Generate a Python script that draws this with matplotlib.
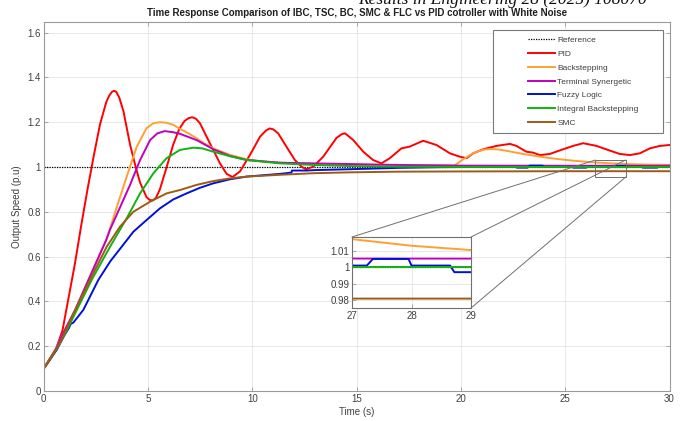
import matplotlib
matplotlib.use("Agg")
import matplotlib.pyplot as plt
from matplotlib.patches import Rectangle, ConnectionPatch
from matplotlib.ticker import FormatStrFormatter
import numpy as np

plt.rcParams['font.family'] = ['Liberation Sans', 'DejaVu Sans']

# speed responses (p.u.) read at irregular time instants (s)
t_pid = [0, 0, 0.3, 0.6, 0.9, 1.2, 1.5, 1.8, 2.1, 2.4, 2.7, 3.0, 3.15, 3.27, 3.37, 3.48, 3.62,
         3.82, 4.14, 4.41, 4.62, 4.93, 5.08, 5.22, 5.38, 5.57, 5.89, 6.21, 6.5, 6.75, 6.95, 7.12,
         7.3, 7.49, 7.97, 8.45, 8.77, 9.05, 9.41, 9.89, 10.37, 10.65, 10.83, 11.0, 11.24, 11.64,
         12.04, 12.36, 12.57, 12.92, 13.4, 14.04, 14.3, 14.45, 14.84, 15.32, 15.79, 16.19, 16.59,
         17.15, 17.55, 18.19, 18.83, 19.47, 19.94, 20.27, 20.59, 21.07, 21.71, 22.35, 22.66,
         23.14, 23.46, 23.78, 24.26, 24.9, 25.38, 25.86, 26.5, 27.14, 27.62, 28.1, 28.58, 29.06,
         29.54, 30]
v_pid = [0, 0.1, 0.14, 0.19, 0.27, 0.42, 0.57, 0.74, 0.9, 1.05, 1.19, 1.29, 1.32, 1.335, 1.34,
         1.335, 1.31, 1.25, 1.1, 1.0, 0.93, 0.865, 0.853, 0.85, 0.862, 0.9, 0.998, 1.1, 1.17,
         1.205, 1.218, 1.222, 1.215, 1.195, 1.105, 1.016, 0.969, 0.955, 0.98, 1.054, 1.135,
         1.162, 1.172, 1.168, 1.15, 1.09, 1.031, 1.001, 0.99, 1.001, 1.046, 1.13, 1.147, 1.15,
         1.12, 1.068, 1.031, 1.016, 1.039, 1.083, 1.091, 1.117, 1.098, 1.061, 1.046, 1.039,
         1.061, 1.079, 1.094, 1.103, 1.094, 1.068, 1.064, 1.053, 1.058, 1.079, 1.094, 1.106,
         1.094, 1.073, 1.058, 1.053, 1.061, 1.083, 1.094, 1.098]

t_bs = [0, 0, 0.6, 1.0, 1.5, 2.0, 2.5, 3.0, 3.18, 3.35, 3.5, 3.98, 4.46, 4.93, 5.25, 5.57, 5.9,
        6.21, 6.53, 6.85, 7.33, 7.7, 8.13, 8.93, 9.73, 10.52, 11.32, 12.92, 14.7, 17.0, 19.7,
        20.11, 20.59, 21.07, 21.4, 21.8, 22.19, 22.98, 23.78, 24.58, 25.38, 26.18, 27.0, 28.0,
        29.0, 30.0]
v_bs = [0, 0.1, 0.19, 0.27, 0.36, 0.465, 0.57, 0.675, 0.725, 0.775, 0.82, 0.957, 1.09, 1.173,
        1.195, 1.2, 1.197, 1.188, 1.17, 1.155, 1.128, 1.105, 1.083, 1.054, 1.034, 1.024, 1.019,
        1.013, 1.009, 1.007, 1.007, 1.034, 1.062, 1.077, 1.08, 1.078, 1.072, 1.058, 1.046,
        1.036, 1.028, 1.022, 1.017, 1.013, 1.0104, 1.009]

t_tsc = [0, 0, 0.6, 1.0, 1.5, 2.0, 2.5, 3.0, 3.18, 3.66, 4.14, 4.62, 5.1, 5.45, 5.8, 6.21,
         6.53, 7.33, 8.13, 8.93, 9.73, 11.32, 12.92, 14.7, 17.0, 20.0, 25.0, 30.0]
v_tsc = [0, 0.1, 0.19, 0.27, 0.36, 0.465, 0.57, 0.675, 0.72, 0.82, 0.92, 1.031, 1.12, 1.15,
         1.16, 1.155, 1.148, 1.12, 1.079, 1.049, 1.031, 1.019, 1.016, 1.013, 1.009, 1.006,
         1.0053, 1.0052]

t_flc = [0, 0, 0.62, 1.0, 1.2, 1.3, 1.42, 1.9, 2.62, 3.2, 3.74, 4.3, 4.93, 5.57, 6.21, 6.85,
         7.49, 8.13, 8.93, 9.73, 10.52, 11.32, 11.88, 11.9, 12.6, 13.0, 14.7, 15.5, 17.0, 19.0,
         20.5, 22.6, 22.7, 23.2, 23.3, 23.9, 24.0, 25.3, 25.4, 26.0, 26.1, 27.25, 27.35, 27.95,
         28.0, 28.65, 28.72, 29.4, 29.5, 30.0]
v_flc = [0, 0.1, 0.183, 0.25, 0.28, 0.3, 0.305, 0.362, 0.496, 0.58, 0.644, 0.711, 0.763, 0.815,
         0.855, 0.882, 0.907, 0.927, 0.945, 0.957, 0.963, 0.969, 0.975, 0.984, 0.984, 0.986,
         0.99, 0.992, 0.996, 0.999, 1.0, 1.0, 0.997, 0.997, 1.006, 1.006, 1.0, 1.0, 0.997,
         0.997, 1.001, 1.001, 1.005, 1.005, 1.001, 1.001, 0.997, 0.997, 1.0, 1.0]

t_ibs = [0, 0, 0.6, 1.0, 1.42, 2.3, 3.18, 3.98, 4.62, 5.26, 5.89, 6.53, 7.17, 7.6, 8.13, 8.93,
         9.73, 11.32, 12.92, 14.7, 17.0, 20.0, 30.0]
v_ibs = [0, 0.1, 0.185, 0.25, 0.33, 0.496, 0.644, 0.771, 0.882, 0.972, 1.039, 1.076, 1.086,
         1.083, 1.068, 1.048, 1.031, 1.016, 1.009, 1.004, 1.001, 1.0, 1.0]

t_smc = [0, 0, 0.78, 1.42, 2.22, 3.02, 3.66, 4.3, 5.1, 5.89, 6.53, 7.33, 8.13, 8.93, 9.73,
         11.32, 12.92, 14.7, 17.0, 20.0, 25.0, 30.0]
v_smc = [0, 0.1, 0.213, 0.345, 0.496, 0.644, 0.734, 0.8, 0.845, 0.882, 0.897, 0.92, 0.937,
         0.949, 0.957, 0.965, 0.972, 0.976, 0.979, 0.98, 0.981, 0.981]

ref_level = 1.0

series = [
    ("PID", t_pid, v_pid, "#ff0000"),
    ("Backstepping", t_bs, v_bs, "#ffa033"),
    ("Terminal Synergetic", t_tsc, v_tsc, "#c000c0"),
    ("Fuzzy Logic", t_flc, v_flc, "#0010d8"),
    ("Integral Backstepping", t_ibs, v_ibs, "#10b410"),
    ("SMC", t_smc, v_smc, "#a05a14"),
]

W, H = 683, 421
fig = plt.figure(figsize=(W / 100, H / 100), dpi=100)
ax = fig.add_axes([43.7 / W, 1 - 391 / H, (669.5 - 43.7) / W, (391 - 22) / H])

axis_gray = "#9a9a9a"
text_gray = "#404040"


def style_axes(a, fs):
    a.grid(True, color="#e4e4e4", linewidth=0.6)
    a.set_axisbelow(True)
    for s in a.spines.values():
        s.set_color(axis_gray)
        s.set_linewidth(0.8)
    a.tick_params(direction="in", top=True, right=True, length=3, width=0.6,
                  color=axis_gray, labelcolor=text_gray, labelsize=fs, pad=2)


ax.plot([0, 30], [ref_level, ref_level], color="black", linestyle=(0, (1, 1)),
        linewidth=0.9, label="Reference")
for name, t, v, c in series:
    ax.plot(t, v, color=c, linewidth=1.4, label=name)

ax.set_xlim(0, 30)
ax.set_ylim(0, 1.647)
ax.set_xticks(np.arange(0, 31, 5))
ax.set_yticks(np.arange(0, 1.61, 0.2))
ax.yaxis.set_major_formatter(FormatStrFormatter("%g"))
style_axes(ax, 7)
ax.set_xlabel("Time (s)", fontsize=7, color=text_gray, labelpad=2)
ax.set_ylabel("Output Speed (p.u)", fontsize=7, color=text_gray, labelpad=4)
ax.set_title("Time Response Comparison of IBC, TSC, BC, SMC & FLC vs PID cotroller with White Noise",
             fontsize=7.0, fontweight="bold", color="#202020", pad=4)

# legend with a hand-drawn frame behind it
leg = ax.legend(loc="upper left", bbox_to_anchor=(524 / W, 1 - 32 / H),
                bbox_transform=fig.transFigure, frameon=False, fontsize=6.0,
                handlelength=3.2, handletextpad=0.3, labelspacing=0.72,
                borderpad=0, labelcolor=text_gray)
leg.set_zorder(6)
ax.add_patch(Rectangle((493 / W, 1 - 133 / H), 170 / W, 103 / H,
                       transform=fig.transFigure, facecolor="white",
                       edgecolor="#7a7a7a", linewidth=0.8, zorder=5, clip_on=False))

# zoomed view of the tail
rect_t0, rect_t1, rect_lo, rect_hi = 26.45, 27.9, 0.955, 1.031
ax.add_patch(Rectangle((rect_t0, rect_lo), rect_t1 - rect_t0, rect_hi - rect_lo,
                       fill=False, edgecolor="#707070", linewidth=0.7, zorder=4))

axin = fig.add_axes([352 / W, 1 - 308 / H, (471 - 352) / W, (308 - 237) / H])
axin.plot([27, 29], [ref_level, ref_level], color="black", linestyle=(0, (1, 1)),
          linewidth=0.9)
for name, t, v, c in series:
    axin.plot(t, v, color=c, linewidth=1.4)
axin.set_xlim(27, 29)
axin.set_ylim(0.9753, 1.0183)
axin.set_xticks([27, 28, 29])
axin.set_yticks([0.98, 0.99, 1.0, 1.01])
axin.yaxis.set_major_formatter(FormatStrFormatter("%g"))
style_axes(axin, 7)
axin.tick_params(top=False, right=False)
for s in axin.spines.values():
    s.set_color("#707070")

for (xa, ya), (xb, yb) in [((rect_t0, rect_hi), (0, 1)),
                           ((rect_t1, rect_hi), (1, 1)),
                           ((rect_t1, rect_lo), (1, 0))]:
    cp = ConnectionPatch(xyA=(xa, ya), coordsA=ax.transData,
                         xyB=(xb, yb), coordsB=axin.transAxes,
                         color="#707070", linewidth=0.7)
    fig.add_artist(cp)

# journal header, cropped at the top edge of the figure
fig.text(647 / W, 1 - 4 / H, "Results in Engineering 28 (2025) 108070", ha="right",
         va="baseline", fontsize=12.5, fontstyle="italic", family="Liberation Serif",
         color="#111111")

fig.savefig("out.png", dpi=100)
